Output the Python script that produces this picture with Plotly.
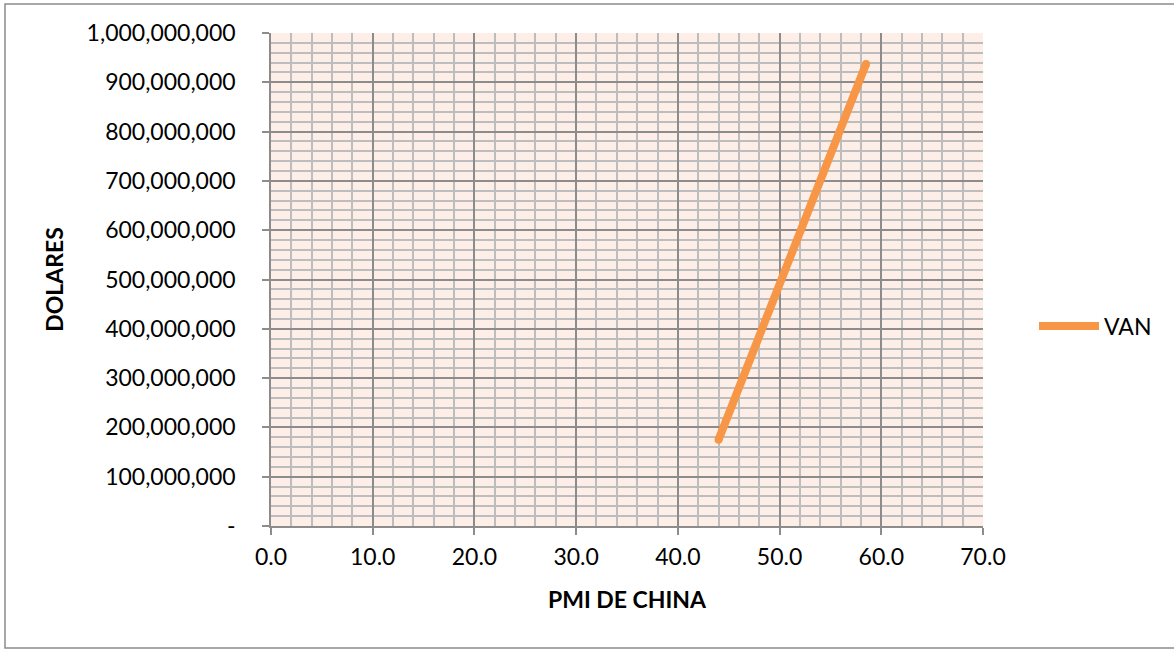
import plotly.graph_objects as go

pmi = [44.0, 58.5]
van = [175000000, 937000000]

y_tickvals = [0, 100000000, 200000000, 300000000, 400000000, 500000000,
              600000000, 700000000, 800000000, 900000000, 1000000000]
y_ticktext = ["-", "100,000,000", "200,000,000", "300,000,000", "400,000,000",
              "500,000,000", "600,000,000", "700,000,000", "800,000,000",
              "900,000,000", "1,000,000,000"]
x_tickvals = [0, 10, 20, 30, 40, 50, 60, 70]
x_ticktext = ["0.0", "10.0", "20.0", "30.0", "40.0", "50.0", "60.0", "70.0"]

W, H = 1174, 649
L, R, T, B = 271, 191, 33, 123
pw, ph = W - L - R, H - T - B

ORANGE = "#F79646"

fig = go.Figure()
fig.add_trace(go.Scatter(x=pmi, y=van, mode="lines", name="VAN",
                         line=dict(color=ORANGE, width=8)))
fig.add_trace(go.Scatter(x=pmi, y=van, mode="markers", showlegend=False, hoverinfo="skip",
                         marker=dict(color=ORANGE, size=8, line=dict(width=0))))

font = "Lato, Carlito, Open Sans, sans-serif"
fig.update_layout(
    width=W, height=H,
    margin=dict(l=L, r=R, t=T, b=B, pad=0),
    paper_bgcolor="white",
    plot_bgcolor="#FDEEE7",
    font=dict(family=font, size=23, color="black"),
    showlegend=True,
    legend=dict(x=(1034 - L) / pw, y=(T + ph - 326) / ph, xanchor="left", yanchor="middle",
                font=dict(size=23), bgcolor="rgba(0,0,0,0)", itemwidth=60),
    xaxis=dict(range=[0, 70], tickvals=x_tickvals, ticktext=x_ticktext,
               showgrid=True, gridcolor="#8C8C8C", gridwidth=1.5,
               minor=dict(dtick=2, showgrid=True, gridcolor="#BDBDBD", gridwidth=1.5),
               ticks="outside", ticklen=7, tickcolor="#8C8C8C", tickwidth=1.5,
               ticklabelstandoff=3,
               showline=True, linecolor="#8C8C8C", linewidth=1.5, zeroline=False,
               title=dict(text="<b>PMI DE CHINA</b>", font=dict(size=23), standoff=23)),
    yaxis=dict(range=[0, 1000000000], tickvals=y_tickvals, ticktext=y_ticktext,
               showgrid=True, gridcolor="#8C8C8C", gridwidth=1.5,
               minor=dict(dtick=20000000, showgrid=True, gridcolor="#BDBDBD", gridwidth=1.5),
               ticks="outside", ticklen=7, tickcolor="#8C8C8C", tickwidth=1.5,
               ticklabelstandoff=22,
               showline=True, linecolor="#8C8C8C", linewidth=1.5, zeroline=False,
               title=dict(text="<b>DOLARES</b>", font=dict(size=23), standoff=17)),
)

fig.add_shape(type="rect", xref="paper", yref="paper",
              x0=(5 - L) / pw, x1=(1190 - L) / pw,
              y0=(T + ph - 648) / ph, y1=(T + ph - 4) / ph,
              line=dict(color="#8C8C8C", width=1.5), fillcolor="rgba(0,0,0,0)", layer="below")

fig.write_html("out.html", config={"displayModeBar": False},
               post_script="document.body.style.margin='0';")
